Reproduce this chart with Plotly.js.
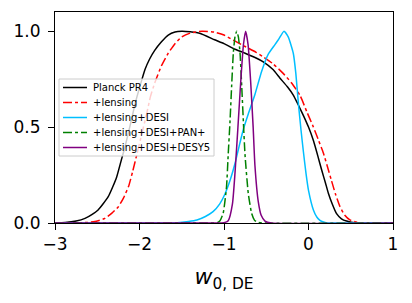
<!DOCTYPE html>
<html>
<head>
<meta charset="utf-8">
<script src="https://cdn.plot.ly/plotly-3.0.1.min.js"></script>
<style>html,body{margin:0;padding:0;background:#fff;}#chart{width:412px;height:303px;}</style>
</head>
<body>
<div id="chart"></div>
<script>
// Series names
const seriesNames = ["Planck PR4", "+lensing", "+lensing+DESI", "+lensing+DESI+PAN+", "+lensing+DESI+DESY5"];

// Planck PR4
const pr4X = [-3.0,-2.88,-2.75,-2.645,-2.56,-2.49,-2.43,-2.37,-2.32,-2.27,-2.22,-2.17,-2.11,-2.05,-1.99,-1.935,-1.88,-1.82,-1.74,-1.66,-1.58,-1.50,-1.40,-1.28,-1.11,-1.00,-0.89,-0.75,-0.62,-0.535,-0.42,-0.337,-0.25,-0.18,-0.12,-0.06,0.0,0.058,0.11,0.156,0.20,0.235,0.28,0.33,0.39,0.45,0.57,0.8,1.0];
const pr4Y = [0,0.002,0.01,0.024,0.045,0.068,0.1,0.137,0.185,0.24,0.32,0.40,0.51,0.625,0.72,0.80,0.855,0.90,0.945,0.98,0.996,1.0,0.997,0.988,0.955,0.935,0.91,0.885,0.86,0.84,0.80,0.755,0.71,0.667,0.615,0.56,0.50,0.43,0.35,0.276,0.21,0.155,0.10,0.05,0.022,0.01,0,0,0];

// +lensing
const lensX = [-3.0,-2.75,-2.61,-2.50,-2.41,-2.33,-2.25,-2.19,-2.13,-2.08,-2.03,-1.97,-1.915,-1.87,-1.82,-1.74,-1.66,-1.58,-1.50,-1.40,-1.26,-1.11,-1.00,-0.89,-0.75,-0.62,-0.535,-0.42,-0.30,-0.20,-0.10,-0.02,0.058,0.12,0.176,0.22,0.27,0.32,0.373,0.43,0.49,0.61,0.8,1.0];
const lensY = [0,0,0.003,0.01,0.024,0.05,0.085,0.13,0.19,0.27,0.36,0.47,0.57,0.66,0.73,0.82,0.885,0.935,0.97,0.99,1.0,0.995,0.98,0.953,0.92,0.89,0.866,0.83,0.78,0.73,0.665,0.58,0.50,0.43,0.365,0.30,0.224,0.15,0.085,0.04,0.016,0,0,0];

// +lensing+DESI
const desiX = [-3.0,-1.7,-1.52,-1.42,-1.32,-1.22,-1.13,-1.05,-0.99,-0.93,-0.87,-0.81,-0.77,-0.712,-0.634,-0.555,-0.476,-0.397,-0.35,-0.29,-0.24,-0.18,-0.15,-0.12,-0.09,-0.06,-0.03,0.0,0.058,0.10,0.136,0.176,0.215,0.4,1.0];
const desiY = [0,0,0.003,0.008,0.016,0.034,0.059,0.10,0.15,0.22,0.31,0.42,0.49,0.57,0.67,0.79,0.88,0.93,0.96,1.0,0.97,0.885,0.78,0.625,0.49,0.37,0.26,0.17,0.068,0.03,0.014,0.005,0,0,0];

// +lensing+DESI+PAN+
const panX = [-3.0,-1.2,-1.08,-1.05,-1.01,-0.97,-0.95,-0.93,-0.91,-0.89,-0.87,-0.85,-0.83,-0.81,-0.79,-0.77,-0.752,-0.713,-0.673,-0.64,-0.61,-0.5,1.0];
const panY = [0,0,0.002,0.01,0.05,0.19,0.36,0.52,0.71,0.885,0.97,1.0,0.97,0.885,0.71,0.52,0.36,0.155,0.05,0.015,0.005,0,0];

// +lensing+DESI+DESY5
const desy5X = [-3.0,-1.1,-1.0,-0.95,-0.90,-0.87,-0.835,-0.80,-0.77,-0.744,-0.715,-0.685,-0.655,-0.634,-0.594,-0.56,-0.515,-0.44,1.0];
const desy5Y = [0,0,0.002,0.012,0.10,0.26,0.50,0.75,0.93,1.0,0.93,0.74,0.50,0.30,0.11,0.04,0.01,0,0];

// Axis ticks
const xTicks = [-3,-2,-1,0,1];
const yTicks = [0,0.5,1.0];

const styles = [
  {color:'#000000', dash:'solid'},
  {color:'#ff0000', dash:'dashdot'},
  {color:'#00bfff', dash:'solid'},
  {color:'#008000', dash:'dashdot'},
  {color:'#800080', dash:'solid'}
];
const xs = [pr4X, lensX, desiX, panX, desy5X];
const ys = [pr4Y, lensY, desiY, panY, desy5Y];

const traces = seriesNames.map((n,i)=>({
  x: xs[i], y: ys[i], name: n, type:'scatter', mode:'lines', showlegend:false,
  line:{color:styles[i].color, dash:styles[i].dash, width:1.5, shape:'spline', smoothing:0.5}
}));

// plot area geometry (pixels) for the hand-drawn legend
const M = {l:55, r:19, t:12, b:80};
const PW = 412 - M.l - M.r, PH = 303 - M.t - M.b;
const px2x = p => (p - M.l) / PW;
const py2y = p => (303 - M.b - p) / PH;

const shapes = [{
  type:'rect', xref:'paper', yref:'paper', layer:'above',
  x0:px2x(59), x1:px2x(214), y0:py2y(156), y1:py2y(79),
  line:{color:'#cccccc', width:1}, fillcolor:'rgba(255,255,255,0.8)'
}];
const annotations = [];
seriesNames.forEach((n,i)=>{
  const rowY = 87.5 + 15*i;
  shapes.push({type:'line', xref:'paper', yref:'paper', layer:'above',
    x0:px2x(63), x1:px2x(87), y0:py2y(rowY), y1:py2y(rowY),
    line:{color:styles[i].color, dash:styles[i].dash, width:1.5}});
  annotations.push({xref:'paper', yref:'paper', x:px2x(91.5), y:py2y(rowY), xanchor:'left', yanchor:'middle',
    text:n, showarrow:false, borderpad:0,
    font:{family:'DejaVu Sans, sans-serif', size:10, color:'#000'}});
});

const layout = {
  width:412, height:303,
  margin:M,
  paper_bgcolor:'#fff', plot_bgcolor:'#fff',
  font:{family:'DejaVu Sans, sans-serif', color:'#000'},
  showlegend:false,
  shapes: shapes,
  annotations: annotations,
  xaxis:{range:[-3,1], tickvals:xTicks, ticks:'outside', ticklen:6, tickwidth:1, tickcolor:'#000',
    showline:true, mirror:true, linecolor:'#000', linewidth:1, showgrid:false, zeroline:false,
    tickfont:{family:'DejaVu Sans, sans-serif', size:17, color:'#000'},
    title:{text:'<i>w</i><sub>0, DE</sub>', font:{family:'DejaVu Sans, sans-serif', size:22, color:'#000'}, standoff:15}},
  yaxis:{range:[0,1.1], tickvals:yTicks, tickformat:'.1f', ticks:'outside', ticklen:6, tickwidth:1, tickcolor:'#000',
    showline:true, mirror:true, linecolor:'#000', linewidth:1, showgrid:false, zeroline:false,
    ticklabelstandoff:4,
    tickfont:{family:'DejaVu Sans, sans-serif', size:17, color:'#000'}}
};
Plotly.newPlot('chart', traces, layout, {staticPlot:true, displayModeBar:false});
</script>
</body>
</html>
